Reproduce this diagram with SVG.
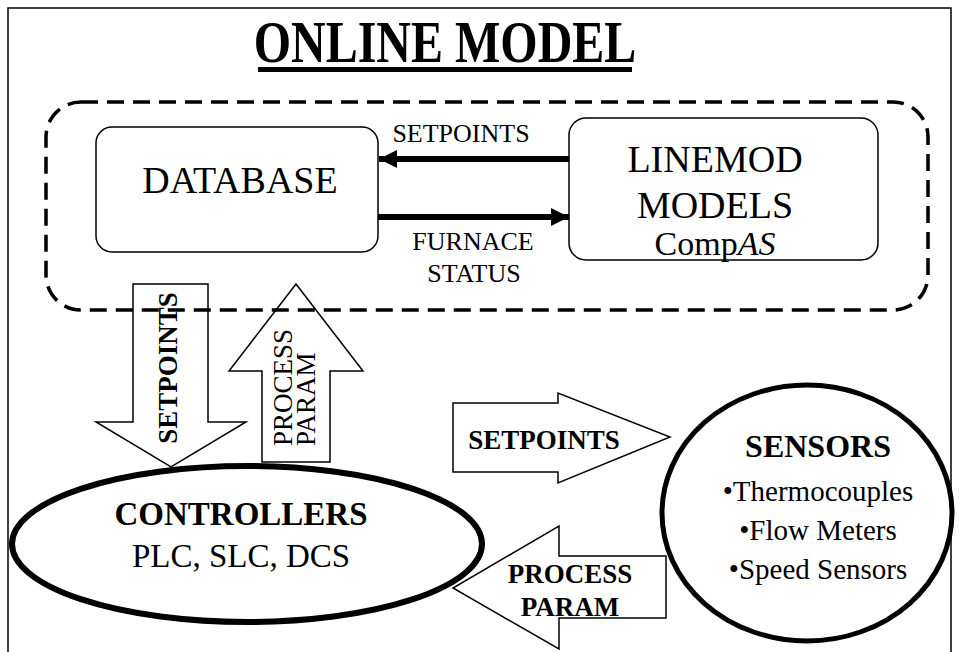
<svg xmlns="http://www.w3.org/2000/svg" width="959" height="652" viewBox="0 0 959 652">
  <style>
    .t { font-family: "Liberation Serif", "Times New Roman", serif; fill: #000; }
    .b { font-weight: bold; }
    .box { fill: #fff; stroke: #000; stroke-width: 1.5; }
    .blk { fill: #fff; stroke: #000; stroke-width: 1.5; stroke-linejoin: miter; }
    .flow { stroke: #000; stroke-width: 6; fill: none; }
  </style>
  <defs>
    <marker id="head" viewBox="0 0 18 18" refX="18" refY="9" markerWidth="18" markerHeight="18" markerUnits="userSpaceOnUse" orient="auto">
      <path d="M0,0 L18,9 L0,18 Z" fill="#000"/>
    </marker>
  </defs>

  <rect width="959" height="652" fill="#fff"/>
  <!-- page frame -->
  <path d="M8,660 V8 H951 V660" fill="none" stroke="#000" stroke-width="1.5"/>

  <!-- title, tall and narrow -->
  <g id="title">
    <text class="t b" font-size="48" text-anchor="middle" transform="translate(445,62) scale(1,1.22)">ONLINE MODEL</text>
    <rect x="258" y="67" width="374" height="5" fill="#000"/>
  </g>

  <!-- block arrows and flow lines -->
  <g id="connectors">
    <g id="arrow-setpoints-down">
      <polygon class="blk" points="133,284 208,284 208,422 246,422 171,467 96,422 133,422"/>
      <text class="t b" font-size="27" text-anchor="middle" transform="translate(177,368) rotate(-90)">SETPOINTS</text>
    </g>
    <g id="arrow-process-up">
      <polygon class="blk" points="296,284 363,371 330,371 330,462 262,462 262,371 229,371"/>
      <text class="t" font-size="27" transform="translate(292,446) rotate(-90)">PROCESS</text>
      <text class="t" font-size="27" transform="translate(315,446) rotate(-90)">PARAM</text>
    </g>
    <g id="arrow-setpoints-right">
      <polygon class="blk" points="453,403 558,403 558,393 670,437 558,483 558,472 453,472"/>
      <text class="t b" x="544" y="449" font-size="27" text-anchor="middle">SETPOINTS</text>
    </g>
    <g id="arrow-process-left">
      <polygon class="blk" points="666,556 559,556 559,526 453,588 559,649 559,618 666,618"/>
      <text class="t b" x="570" y="583" font-size="27" text-anchor="middle">PROCESS</text>
      <text class="t b" x="570" y="616" font-size="27" text-anchor="middle">PARAM</text>
    </g>
    <g id="flow-setpoints">
      <line class="flow" x1="569" y1="159" x2="379" y2="159" marker-end="url(#head)"/>
      <text class="t" x="461" y="142" font-size="26" text-anchor="middle">SETPOINTS</text>
    </g>
    <g id="flow-furnace-status">
      <line class="flow" x1="378" y1="217" x2="569" y2="217" marker-end="url(#head)"/>
      <text class="t" x="473" y="250" font-size="26" text-anchor="middle">FURNACE</text>
      <text class="t" x="474" y="282" font-size="26" text-anchor="middle">STATUS</text>
    </g>
  </g>

  <!-- online model boundary -->
  <g id="online-model">
    <rect x="46" y="102" width="882" height="208" rx="35" ry="35" fill="none" stroke="#000" stroke-width="3.5" stroke-dasharray="17 9"/>
  </g>

  <g id="database">
    <rect class="box" x="96" y="127" width="282" height="125" rx="16" ry="16"/>
    <text class="t" x="240" y="193" font-size="38" text-anchor="middle">DATABASE</text>
  </g>

  <g id="linemod">
    <rect class="box" x="569" y="118" width="309" height="142" rx="17" ry="17"/>
    <text class="t" x="715" y="172" font-size="38" text-anchor="middle">LINEMOD</text>
    <text class="t" x="715" y="218" font-size="38" text-anchor="middle">MODELS</text>
    <text class="t" x="715" y="255" font-size="34" text-anchor="middle">Comp<tspan font-style="italic">AS</tspan></text>
  </g>

  <g id="controllers">
    <ellipse cx="247" cy="544" rx="235" ry="78" fill="#fff" stroke="#000" stroke-width="6"/>
    <text class="t b" x="241" y="525" font-size="33" text-anchor="middle">CONTROLLERS</text>
    <text class="t" x="241" y="567" font-size="33" text-anchor="middle">PLC, SLC, DCS</text>
  </g>

  <g id="sensors">
    <ellipse cx="807" cy="513" rx="145" ry="128" fill="#fff" stroke="#000" stroke-width="5"/>
    <text class="t b" x="818" y="457" font-size="32" text-anchor="middle">SENSORS</text>
    <text class="t" x="818" y="501" font-size="29" text-anchor="middle">•Thermocouples</text>
    <text class="t" x="818" y="540" font-size="29" text-anchor="middle">•Flow Meters</text>
    <text class="t" x="818" y="579" font-size="29" text-anchor="middle">•Speed Sensors</text>
  </g>
</svg>
